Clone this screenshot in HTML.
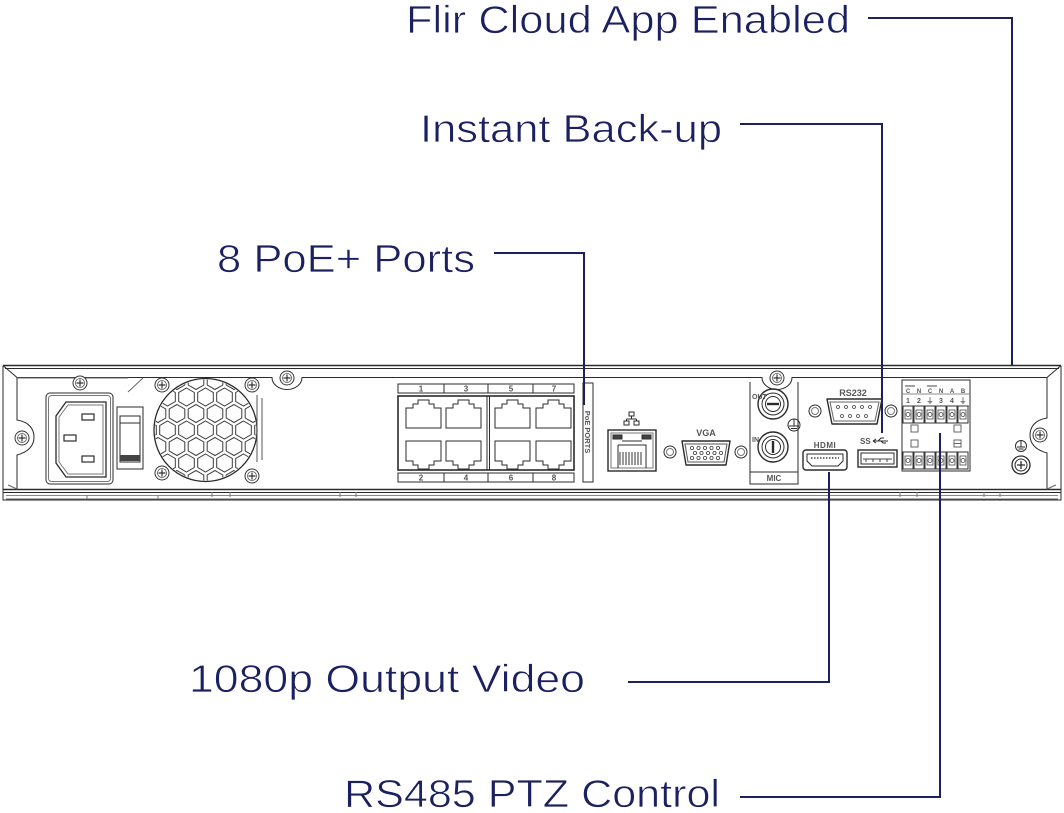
<!DOCTYPE html>
<html><head><meta charset="utf-8"><style>
html,body{margin:0;padding:0;background:#fff;}
svg{display:block;}
.lbl{font-family:"Liberation Sans",sans-serif;font-size:39px;fill:#1b2060;stroke:#fff;stroke-width:0.7px;}
.tiny{font-family:"Liberation Sans",sans-serif;font-weight:bold;fill:#555;}
</style></head><body>
<svg width="1064" height="813" viewBox="0 0 1064 813" xmlns="http://www.w3.org/2000/svg">
<defs>
<pattern id="hex" patternUnits="userSpaceOnUse" x="196" y="413.5" width="19" height="33">
 <g fill="none" stroke="#3a3a3a" stroke-width="1">
  <path d="M0,-9 l7.8,4.5 v9 l-7.8,4.5 l-7.8,-4.5 v-9z"/>
  <path d="M19,-9 l7.8,4.5 v9 l-7.8,4.5 l-7.8,-4.5 v-9z"/>
  <path d="M9.5,7.5 l7.8,4.5 v9 l-7.8,4.5 l-7.8,-4.5 v-9z"/>
  <path d="M0,24 l7.8,4.5 v9 l-7.8,4.5 l-7.8,-4.5 v-9z"/>
  <path d="M19,24 l7.8,4.5 v9 l-7.8,4.5 l-7.8,-4.5 v-9z"/>
 </g>
</pattern>
<clipPath id="fanclip"><circle cx="205.5" cy="430" r="50.5"/></clipPath>
<g id="screw"><circle r="7" fill="#fff" stroke="#333" stroke-width="1"/><circle r="4.5" fill="none" stroke="#555" stroke-width="0.8"/><path d="M-3.5,0 H3.5 M0,-3.5 V3.5" stroke="#333" stroke-width="1.2"/></g>
<g id="term"><rect x="0" y="0" width="10" height="17" fill="#fff" stroke="#333" stroke-width="1"/><rect x="2" y="4" width="6" height="9" fill="none" stroke="#444" stroke-width="0.8"/><circle cx="5" cy="8.5" r="2" fill="none" stroke="#444" stroke-width="0.8"/></g>
</defs>

<!-- ============ CHASSIS ============ -->
<g fill="none" stroke="#2b2b2b" stroke-width="1">
 <path d="M3,365.5 H1061" stroke-width="1.6"/>
 <path d="M5,368.5 H1059"/>
 <path d="M3,365.5 V500 H1061 V365.5"/>
 <path d="M3,365.5 L17,377.5 M1061,365.5 L1047,377.5"/>
 <path d="M17,377.5 H272 A15,12 0 0 0 302,377.5 H762 A15,12 0 0 0 792,377.5 H1047"/>
 <path d="M17,377.5 V420 C30,422 34,430 34,437 C34,446 28,452 17,455 V489"/>
 <path d="M1047,377.5 V418 C1034,420 1030,428 1030,435 C1030,444 1036,450 1047,453 V489"/>
 <path d="M17,378 L128,378 M128,392 L143,378" stroke="#666"/>
 <path d="M3,489.5 H1061" stroke-width="1.6"/>
 <path d="M3,492.5 H1061"/>
 <path d="M6,495.5 H1058" stroke="#888"/>
 <path d="M6,499 H1058" stroke="#666"/>
 <path d="M87,495 V499 M158,495 V499 M212,492 V497 M230,492 V497 M340,492 V497 M356,492 V497 M900,492 V497 M917,492 V497 M984,492 V497 M1000,492 V497" stroke="#777"/>
 <path d="M8,485 L17,489 M1056,485 L1047,489" stroke="#666"/>
</g>

<!-- screws on chassis -->
<use href="#screw" x="80" y="383"/>
<use href="#screw" x="287" y="378"/>
<use href="#screw" x="22" y="438"/>
<use href="#screw" x="1040" y="435"/>
<use href="#screw" x="777" y="378"/>

<!-- ============ POWER INLET ============ -->
<g fill="none" stroke="#2b2b2b" stroke-width="1">
 <rect x="46" y="393" width="67" height="91" rx="4"/>
 <rect x="48.5" y="395.5" width="62" height="86" rx="3" stroke="#777"/>
 <path d="M66,402 H106 V477 H66 L56,463 V416 Z" stroke-width="1.3"/>
 <path d="M68,405 H103 V474 H68 L59,462 V417 Z" stroke="#777"/>
 <rect x="82" y="414" width="12" height="6" stroke-width="1.2"/>
 <rect x="64" y="435" width="12" height="6" stroke-width="1.2"/>
 <rect x="82" y="456" width="12" height="6" stroke-width="1.2"/>
 <!-- switch -->
 <rect x="117" y="407" width="26" height="62"/>
 <rect x="120" y="416" width="20" height="46"/>
 <path d="M120,423 H140"/>
</g>
<rect x="120" y="455" width="20" height="6" fill="#444"/>

<!-- ============ FAN ============ -->
<rect x="154" y="378" width="104" height="104" fill="url(#hex)" clip-path="url(#fanclip)"/>
<circle cx="205.5" cy="430" r="51.5" fill="none" stroke="#2b2b2b" stroke-width="1.3"/>
<path d="M257,395 V462 M262,398 V460" stroke="#555" stroke-width="1" fill="none"/>
<use href="#screw" x="162" y="385"/>
<use href="#screw" x="162" y="473"/>
<use href="#screw" x="252" y="385"/>
<use href="#screw" x="252" y="476"/>

<!-- ============ PoE PORTS ============ -->
<g fill="none" stroke="#2b2b2b" stroke-width="1">
 <rect x="398" y="384" width="176" height="9"/>
 <path d="M444,384 V393 M488,384 V393 M533,384 V393"/>
 <rect x="398" y="473" width="176" height="9"/>
 <path d="M444,473 V482 M488,473 V482 M533,473 V482"/>
 <rect x="398" y="396" width="176" height="74" stroke-width="1.6"/>
 <path d="M487,396 V470 M489.5,396 V470"/>
 <!-- top row -->
 <path d="M406,408 h7 v-4 h5 v-4 h11 v4 h5 v4 h7 v20 h-35 z"/>
 <path d="M446,408 h7 v-4 h5 v-4 h11 v4 h5 v4 h7 v20 h-35 z"/>
 <path d="M495,408 h7 v-4 h5 v-4 h11 v4 h5 v4 h7 v20 h-35 z"/>
 <path d="M536,408 h7 v-4 h5 v-4 h11 v4 h5 v4 h7 v20 h-35 z"/>
 <!-- bottom row -->
 <path d="M406,441 h35 v20 h-7 v4 h-5 v4 h-11 v-4 h-5 v-4 h-7 z"/>
 <path d="M446,441 h35 v20 h-7 v4 h-5 v4 h-11 v-4 h-5 v-4 h-7 z"/>
 <path d="M495,441 h35 v20 h-7 v4 h-5 v4 h-11 v-4 h-5 v-4 h-7 z"/>
 <path d="M536,441 h35 v20 h-7 v4 h-5 v4 h-11 v-4 h-5 v-4 h-7 z"/>
 <rect x="583" y="383" width="10" height="99"/>
</g>
<g class="tiny" font-size="8" text-anchor="middle">
 <text x="421" y="391.5">1</text><text x="466" y="391.5">3</text><text x="511" y="391.5">5</text><text x="554" y="391.5">7</text>
 <text x="421" y="480.5">2</text><text x="466" y="480.5">4</text><text x="511" y="480.5">6</text><text x="554" y="480.5">8</text>
 <text x="0" y="0" font-size="7.5" transform="translate(585,432) rotate(90)" dy="0">PoE PORTS</text>
</g>

<!-- ============ LAN ============ -->
<g fill="none" stroke="#2b2b2b" stroke-width="1">
 <rect x="608" y="430" width="48" height="41" stroke-width="1.4"/>
 <rect x="611" y="433" width="42" height="35" stroke="#777"/>
 <rect x="613" y="435" width="9" height="4" fill="#444"/>
 <rect x="642" y="435" width="9" height="4" fill="#444"/>
 <path d="M622,441 H642 M618,445 H646 V468 M618,445 V468"/>
 <path d="M620,452 V465 M623,452 V465 M626,452 V465 M629,452 V465 M632,452 V465 M635,452 V465 M638,452 V465 M641,452 V465" stroke="#333"/>
 <!-- network icon -->
 <rect x="629" y="412" width="5" height="4"/>
 <rect x="624" y="421" width="5" height="4"/>
 <rect x="634" y="421" width="5" height="4"/>
 <path d="M631.5,416 V419 M626.5,419 H636.5 M626.5,419 V421 M636.5,419 V421"/>
</g>

<!-- ============ VGA ============ -->
<text class="tiny" x="706" y="436" font-size="9" text-anchor="middle">VGA</text>
<g fill="none" stroke="#2b2b2b" stroke-width="1">
 <circle cx="670" cy="452" r="6"/><circle cx="670" cy="452" r="3.5" stroke="#777"/>
 <circle cx="741" cy="452" r="6"/><circle cx="741" cy="452" r="3.5" stroke="#777"/>
 <path d="M682,441 H730 L726,465 H686 Z" stroke-width="1.4" stroke-linejoin="round"/>
 <path d="M685,444 H727 L724,462 H688 Z" stroke="#555"/>
 <g stroke="#444" stroke-width="0.8">
  <circle cx="692" cy="448" r="1.6"/><circle cx="698.5" cy="448" r="1.6"/><circle cx="705" cy="448" r="1.6"/><circle cx="711.5" cy="448" r="1.6"/><circle cx="718" cy="448" r="1.6"/>
  <circle cx="695" cy="453" r="1.6"/><circle cx="701.5" cy="453" r="1.6"/><circle cx="708" cy="453" r="1.6"/><circle cx="714.5" cy="453" r="1.6"/><circle cx="721" cy="453" r="1.6"/>
  <circle cx="692" cy="458" r="1.6"/><circle cx="698.5" cy="458" r="1.6"/><circle cx="705" cy="458" r="1.6"/><circle cx="711.5" cy="458" r="1.6"/><circle cx="718" cy="458" r="1.6"/>
 </g>
</g>

<!-- ============ MIC ============ -->
<g fill="none" stroke="#2b2b2b" stroke-width="1">
 <path d="M750,382 V484 H798 V382"/>
 <path d="M750,472 H798"/>
 <circle cx="773" cy="404" r="15" stroke-width="1.4"/>
 <circle cx="773" cy="404" r="11"/>
 <circle cx="773" cy="404" r="7.5"/>
 <path d="M767,404 H779" stroke-width="2.4"/>
 <circle cx="773" cy="447" r="15" stroke-width="1.4"/>
 <circle cx="773" cy="447" r="11"/>
 <circle cx="773" cy="447" r="7.5"/>
 <path d="M773,441 V453" stroke-width="2.4"/>
 <circle cx="794" cy="425" r="6"/>
 <path d="M794,419 V426 M789,426 H799 M791,428.5 H797 M793,431 H795"/>
</g>
<g class="tiny" font-size="7">
 <text x="752" y="399">OUT</text>
 <text x="752" y="442">IN</text>
 <text x="774" y="481" font-size="8" text-anchor="middle">MIC</text>
</g>

<!-- ============ RS232 ============ -->
<text class="tiny" x="853" y="396" font-size="9" text-anchor="middle">RS232</text>
<g fill="none" stroke="#2b2b2b" stroke-width="1">
 <circle cx="815" cy="411" r="6"/><circle cx="815" cy="411" r="3.5" stroke="#777"/>
 <circle cx="891" cy="411" r="6"/><circle cx="891" cy="411" r="3.5" stroke="#777"/>
 <path d="M827,399 H882 L877,424 H832 Z" stroke-width="1.4" stroke-linejoin="round"/>
 <path d="M830,402 H879 L875,421 H834 Z" stroke="#666"/>
 <g stroke="#444" stroke-width="0.8">
  <circle cx="838" cy="407" r="1.5"/><circle cx="846" cy="407" r="1.5"/><circle cx="854" cy="407" r="1.5"/><circle cx="862" cy="407" r="1.5"/><circle cx="870" cy="407" r="1.5"/>
  <circle cx="842" cy="416" r="1.5"/><circle cx="850" cy="416" r="1.5"/><circle cx="858" cy="416" r="1.5"/><circle cx="866" cy="416" r="1.5"/>
 </g>
</g>

<!-- ============ HDMI ============ -->
<text class="tiny" x="825" y="448" font-size="8" text-anchor="middle" letter-spacing="0.5">HDMI</text>
<g fill="none" stroke="#2b2b2b" stroke-width="1">
 <rect x="803" y="450" width="44" height="20" rx="3" stroke-width="1.4"/>
 <path d="M807,454 H843 V461 L838,466 H812 L807,461 Z"/>
 <path d="M811,458 H839" stroke="#444" stroke-width="1.4" stroke-dasharray="1.5 1.5"/>
</g>

<!-- ============ USB ============ -->
<text class="tiny" x="860" y="444" font-size="8">SS</text>
<g fill="none" stroke="#2b2b2b" stroke-width="1">
 <path d="M873,441 H888 M873,441 l3,-2 M873,441 l3,2 M878,441 l3,-3 h3 M881,441 l2,2 h3"/>
 <rect x="858" y="450" width="39" height="17" stroke-width="1.4"/>
 <rect x="861" y="453" width="33" height="11"/>
 <path d="M863,459 H892" stroke="#444"/>
 <path d="M866,459 V462 M873,459 V462 M880,459 V462 M887,459 V462" stroke="#444"/>
</g>

<!-- ============ TERMINAL BLOCK ============ -->
<g fill="none" stroke="#2b2b2b" stroke-width="1">
 <rect x="902" y="380" width="68" height="91"/>
 <path d="M902,394 H970 M902,406 H970" stroke="#888"/>
 <path d="M905,386 H915 M927,386 H937" stroke="#444"/>
 <rect x="911" y="425" width="7" height="7" stroke="#666"/>
 <rect x="954" y="425" width="7" height="7" stroke="#666"/>
 <rect x="911" y="440" width="7" height="7" stroke="#666"/>
 <rect x="954" y="440" width="7" height="7" stroke="#666"/>
 <path d="M954,443.5 H961" stroke="#666"/>
</g>
<use href="#term" x="903" y="406"/><use href="#term" x="914" y="406"/><use href="#term" x="925" y="406"/>
<use href="#term" x="936" y="406"/><use href="#term" x="947" y="406"/><use href="#term" x="958" y="406"/>
<use href="#term" x="903" y="452"/><use href="#term" x="914" y="452"/><use href="#term" x="925" y="452"/>
<use href="#term" x="936" y="452"/><use href="#term" x="947" y="452"/><use href="#term" x="958" y="452"/>
<g class="tiny" font-size="6" text-anchor="middle" fill="#333">
 <text x="908" y="393">C</text><text x="919" y="393">N</text><text x="930" y="393">C</text><text x="941" y="393">N</text><text x="952" y="393">A</text><text x="963" y="393">B</text>
 <text x="908" y="403" font-size="7">1</text><text x="919" y="403" font-size="7">2</text><text x="930" y="403" font-size="7">⏚</text><text x="941" y="403" font-size="7">3</text><text x="952" y="403" font-size="7">4</text><text x="963" y="403" font-size="7">⏚</text>
</g>

<!-- right ground -->
<g fill="none" stroke="#2b2b2b" stroke-width="1">
 <circle cx="1021" cy="446" r="5.5"/>
 <path d="M1021,441 V447 M1017,447 H1025 M1018.5,449 H1023.5"/>
 <circle cx="1021" cy="465" r="9" stroke-width="1.3"/>
 <circle cx="1021" cy="465" r="6"/>
 <path d="M1017,465 H1025 M1021,461 V469" stroke-width="1.3"/>
</g>

<!-- ============ CONNECTORS ============ -->
<g fill="none" stroke="#1b2060" stroke-width="2">
 <path d="M868,18 H1012 V365"/>
 <path d="M740,124 H882 V433"/>
 <path d="M494,253 H584 V405"/>
 <path d="M628,682 H829 V472"/>
 <path d="M740,797 H940 V433"/>
</g>

<!-- ============ LABELS ============ -->
<text class="lbl" x="406" y="33" textLength="444" lengthAdjust="spacingAndGlyphs">Flir Cloud App Enabled</text>
<text class="lbl" x="420" y="142" textLength="302" lengthAdjust="spacingAndGlyphs">Instant Back-up</text>
<text class="lbl" x="217" y="272" textLength="258" lengthAdjust="spacingAndGlyphs">8 PoE+ Ports</text>
<text class="lbl" x="189" y="692" textLength="396" lengthAdjust="spacingAndGlyphs">1080p Output Video</text>
<text class="lbl" x="344" y="807" textLength="376" lengthAdjust="spacingAndGlyphs">RS485 PTZ Control</text>
</svg>
</body></html>
